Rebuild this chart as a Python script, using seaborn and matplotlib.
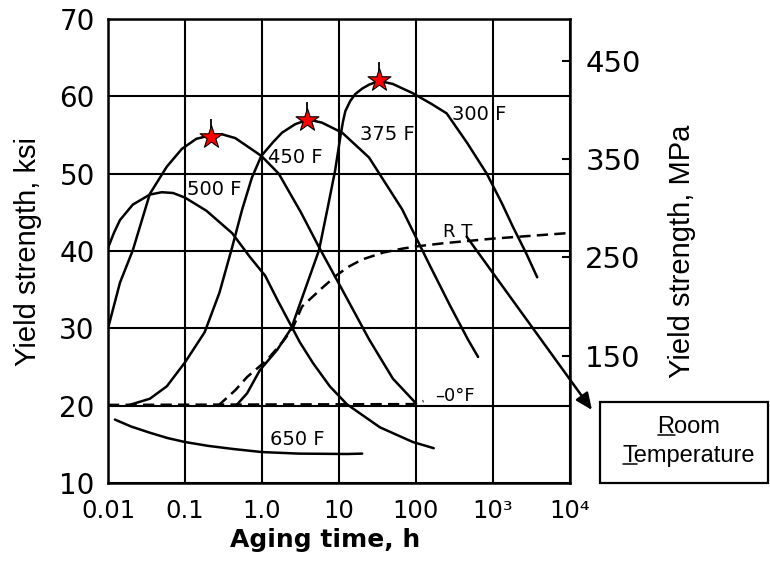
import matplotlib
matplotlib.use('Agg')
import matplotlib.pyplot as plt
import matplotlib.ticker as mticker
import matplotlib.transforms as mtransforms
from matplotlib.patches import Rectangle
from matplotlib.lines import Line2D
import seaborn as sns

# 시효 시간 (h) / 항복강도 (ksi) - 그림에서 읽은 값
t_650 = [0.0123, 0.02, 0.035, 0.06, 0.1, 0.2, 0.42, 1.0, 3.0, 12.6, 20]
ys_650 = [18.2, 17.3, 16.5, 15.8, 15.3, 14.8, 14.4, 14.0, 13.8, 13.75, 13.8]

t_500 = [0.01, 0.012, 0.0143, 0.021, 0.035, 0.05, 0.07, 0.1, 0.19, 0.41, 0.7, 1.1,
         1.6, 2.4, 3.1, 4.6, 7.6, 12.6, 20, 34, 60, 91, 170]
ys_500 = [40.4, 42.4, 44.0, 46.0, 47.3, 47.6, 47.5, 46.9, 45.2, 42.3, 39.2, 36.8,
          33.6, 30.3, 28.2, 25.5, 22.5, 20.2, 18.8, 17.2, 16.1, 15.3, 14.5]

t_450 = [0.01, 0.0143, 0.021, 0.035, 0.058, 0.091, 0.14, 0.22, 0.30, 0.45, 0.98,
         1.65, 3.2, 5.5, 11, 24.5, 50, 100]
ys_450 = [30.0, 35.9, 40.1, 47.4, 50.9, 53.2, 54.5, 55.0, 55.1, 54.6, 52.3,
          50.0, 45.0, 40.5, 35.0, 28.6, 23.5, 20.3]

t_375 = [0.0177, 0.035, 0.058, 0.1, 0.18, 0.28, 0.41, 0.55, 0.74, 0.98, 1.4, 1.82,
         2.7, 4.0, 6, 11, 24.5, 66, 150, 275, 470, 640]
ys_375 = [20.0, 20.9, 22.5, 25.6, 29.5, 34.6, 40.5, 45.3, 49.5, 52.3, 54.1, 55.3,
          56.4, 57.0, 56.6, 55.3, 52.1, 45.4, 38.2, 33.0, 28.6, 26.3]

t_300 = [0.47, 0.64, 0.94, 1.57, 2.4, 3.5, 5.5, 7.2, 8.9, 10.5, 11.3, 12.1, 14,
         16.3, 20, 24.5, 33, 50, 91, 160, 250, 460, 830, 1300, 1800, 2700, 3750]
ys_300 = [20.1, 21.6, 24.6, 27.2, 30.0, 34.6, 40.1, 45.8, 50.4, 55.0, 56.8, 58.1,
          59.4, 60.3, 61.0, 61.5, 62.0, 61.6, 60.4, 59.0, 57.8, 54.0, 50.0, 46.2,
          43.2, 39.7, 36.6]

t_rt = [0.27, 0.45, 0.64, 1.16, 1.87, 2.5, 3.3, 6.0, 9.4, 13.5, 20, 37.5, 66, 103,
        225, 1000, 9000]
ys_rt = [20.0, 22.0, 23.7, 25.9, 28.3, 30.0, 32.8, 35.2, 36.9, 38.0, 38.9, 39.8,
         40.3, 40.6, 41.0, 41.6, 42.3]

t_0f = [0.01, 90, 125]
ys_0f = [20.1, 20.2, 20.6]

# 최대 강도 지점 (별표)
peak_t = [0.216, 3.8, 33]
peak_ksi = [54.8, 57.0, 62.1]

# 곡선 라벨: (텍스트, x, y)
curve_labels = [('500 F', 0.106, 48.0), ('450 F', 1.2, 52.1), ('375 F', 18.7, 55.0),
                ('300 F', 294, 57.6), ('650 F', 1.27, 15.6)]
small_labels = [('R T', 224, 42.5), ('\u20130\u00b0F', 177, 21.25)]

x_ticks = [0.01, 0.1, 1, 10, 100, 1000, 10000]
x_tick_labels = ['0.01', '0.1', '1.0', '10', '100', '10\u00b3', '10\u2074']
y_ticks = [10, 20, 30, 40, 50, 60, 70]
mpa_ticks = [150, 250, 350, 450]

sns.set_theme(style='white')
plt.rcParams['font.family'] = ['DejaVu Sans']
for key in ['text.color', 'axes.labelcolor', 'xtick.color', 'ytick.color']:
    plt.rcParams[key] = 'black'

fig = plt.figure(figsize=(7.7, 5.62), dpi=100)
ax = fig.add_axes([108 / 770, 1 - 483 / 562, 462 / 770, 464 / 562])
ax.set_xscale('log')

solid = [(t_650, ys_650), (t_500, ys_500), (t_450, ys_450), (t_375, ys_375), (t_300, ys_300)]
for t, y in solid:
    sns.lineplot(x=t, y=y, ax=ax, color='black', lw=1.8, sort=False, estimator=None)
for t, y in [(t_rt, ys_rt), (t_0f, ys_0f)]:
    sns.lineplot(x=t, y=y, ax=ax, color='black', lw=1.8, sort=False, estimator=None,
                 linestyle=(0, (4.5, 2.5)))

# 별표 위의 작은 세로선
tick_tr = mtransforms.offset_copy(ax.transData, fig=fig, y=10, units='dots')
ax.plot(peak_t, peak_ksi, ls='none', marker='|', ms=12, mew=1.3, color='black',
        transform=tick_tr, zorder=4)
sns.scatterplot(x=peak_t, y=peak_ksi, ax=ax, marker='*', s=300, color='red',
                edgecolor='black', linewidth=0.8, zorder=5)

for txt, x, y in curve_labels:
    ax.text(x, y, txt, fontsize=14, ha='left', va='center')
for txt, x, y in small_labels:
    ax.text(x, y, txt, fontsize=13, ha='left', va='center')

ax.set_xlim(0.01, 1e4)
ax.set_ylim(10, 70)
ax.xaxis.set_major_locator(mticker.FixedLocator(x_ticks))
ax.xaxis.set_major_formatter(mticker.FixedFormatter(x_tick_labels))
ax.xaxis.set_minor_locator(mticker.NullLocator())
ax.set_yticks(y_ticks)
ax.set_yticklabels([str(v) for v in y_ticks])
ax.grid(True, which='major', color='black', lw=1.5)
ax.tick_params(axis='both', length=0)
ax.tick_params(axis='x', labelsize=17.5, pad=11.5)
ax.tick_params(axis='y', labelsize=20, pad=9.5)
for s in ax.spines.values():
    s.set_color('black')
    s.set_linewidth(1.8)

ax.set_xlabel('Aging time, h', fontsize=18, fontweight='bold')
ax.xaxis.set_label_coords(0.47, -0.097)
ax.set_ylabel('Yield strength, ksi', family='Liberation Sans', fontsize=21)
ax.yaxis.set_label_coords(-0.143, 0.5)

# 오른쪽 MPa 축
ax2 = ax.twinx()
ax2.set_ylim(20.4, 492.8)
ax2.set_yticks(mpa_ticks)
ax2.set_yticklabels([str(v) for v in mpa_ticks])
ax2.tick_params(axis='y', direction='in', length=6, width=1.5, labelsize=21, pad=11)
ax2.grid(False)
for s in ax2.spines.values():
    s.set_visible(False)
ax2.set_ylabel('Yield strength, MPa', family='Liberation Sans', fontsize=21)
ax2.yaxis.set_label_coords(1.212, 0.5)

# RT 화살표 + 박스
ax.annotate('', xy=(592 / 770, 1 - 410 / 562), xycoords='figure fraction',
            xytext=(455, 41.85), textcoords='data', annotation_clip=False,
            arrowprops=dict(arrowstyle='-|>,head_length=0.5,head_width=0.22',
                            color='black', lw=1.8, shrinkA=0, shrinkB=0,
                            mutation_scale=20))
fig.add_artist(Rectangle((600 / 770, 1 - 483 / 562), 168 / 770, 81 / 562,
                         transform=fig.transFigure, fill=False, ec='black', lw=1.6))
box_font = dict(family='Liberation Sans', fontsize=17, ha='center', va='baseline')
t1 = fig.text(689 / 770, 1 - 433 / 562, 'Room', **box_font)
t2 = fig.text(689 / 770, 1 - 462 / 562, 'Temperature', **box_font)

fig.canvas.draw()
r = fig.canvas.get_renderer()
for t, first in [(t1, 'R'), (t2, 'T')]:
    bb = t.get_window_extent(r)
    w, h, d = r.get_text_width_height_descent(first, t.get_fontproperties(), ismath=False)
    yb = t.get_transform().transform(t.get_position())[1] - 2
    fig.add_artist(Line2D([bb.x0, bb.x0 + w], [yb, yb], color='black', lw=1.1,
                          transform=mtransforms.IdentityTransform()))

fig.savefig('out.png', dpi=100)
